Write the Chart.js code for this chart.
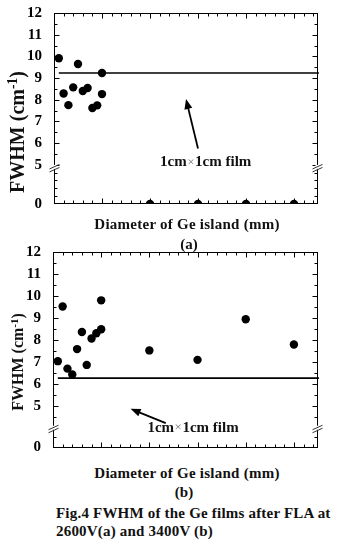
<!DOCTYPE html>
<html><head><meta charset="utf-8">
<script src="https://cdn.jsdelivr.net/npm/chart.js@4/dist/chart.umd.min.js"></script>
<style>
body{margin:0;background:#fff;width:357px;height:543px;position:relative;overflow:hidden;font-family:"Liberation Serif","Times New Roman",serif;font-weight:bold;color:#111}
.box{position:absolute;left:0;width:357px}
.t{position:absolute;white-space:nowrap;line-height:1}
.c{transform:translateX(-50%)}
.yt{position:absolute;white-space:nowrap;line-height:1;transform:translate(-50%,-50%) rotate(-90deg)}
sup{font-size:0.68em;vertical-align:baseline;position:relative;top:-0.5em}
</style></head>
<body>
<div class="box" style="top:0;height:218px"><canvas id="ca"></canvas></div>
<div class="box" style="top:240px;height:219px"><canvas id="cb"></canvas></div>
<div class="yt" style="left:17px;top:132px;font-size:20px">FWHM (cm<sup>-1</sup>)</div>
<div class="yt" style="left:18px;top:362px;font-size:16px">FWHM (cm<sup>-1</sup>)</div>
<div class="t c" style="left:187px;top:217px;font-size:15px;letter-spacing:0.25px">Diameter of Ge island (mm)</div>
<div class="t c" style="left:189px;top:237px;font-size:15px">(a)</div>
<div class="t c" style="left:187px;top:466px;font-size:15px;letter-spacing:0.25px">Diameter of Ge island (mm)</div>
<div class="t c" style="left:184px;top:485px;font-size:15px">(b)</div>
<div class="t" style="left:56px;top:506px;font-size:15px;letter-spacing:0.2px">Fig.4 FWHM of the Ge films after FLA at</div>
<div class="t" style="left:56px;top:524px;font-size:15px;letter-spacing:0.2px">2600V(a) and 3400V (b)</div>
<script>
// ---- data ----
const diameterA = [0.1,0.2,0.3,0.4,0.5,0.6,0.7,0.8,0.9,1.0,1.0,2,3,4,5];
const fwhmA     = [9.91,8.29,7.75,8.57,9.65,8.40,8.54,7.62,7.74,9.23,8.26,0,0,0,0];
const diameterB = [0.1,0.2,0.3,0.4,0.5,0.6,0.7,0.8,0.9,1.0,1.0,2,3,4,5];
const fwhmB     = [7.03,9.52,6.69,6.42,7.58,8.36,6.86,8.06,8.30,9.80,8.48,7.52,7.09,8.94,7.79];
const filmLevelA = 9.23;
const filmLevelB = 6.26;
const filmSpan = [0.1, 5.52];
const yTickLabels = [0,5,6,7,8,9,10,11,12];
const xRange = [0, 5.5];
const noteText = ["1cm", "\u00d7", "1cm film"];

const SERIF = '"Liberation Serif","Times New Roman",serif';
Chart.defaults.font.family = SERIF;

function makeDisp(zeroPos){ // broken axis: values below 5 are compressed
  const k = (5 - zeroPos) / 5;
  return v => v >= 5 ? v : 5 - (5 - v) * k;
}

const framePlugin = {
  id: 'frame',
  afterDatasetsDraw(chart, args, o) {
    const {ctx, chartArea: a, scales: {x, y}} = chart;
    ctx.save();
    ctx.strokeStyle = '#000';
    ctx.fillStyle = '#000';
    ctx.lineWidth = 1;
    const L = Math.round(a.left) + 0.5, R = Math.round(a.right) - 0.5;
    const T = Math.round(a.top) + 0.5, B = Math.round(a.bottom) - 0.5;
    ctx.strokeRect(L, T, R - L, B - T);
    ctx.beginPath();
    for (let i = 1; i < 28; i++) {
      const v = i * 0.2;
      if (v >= xRange[1]) break;
      const px = Math.round(x.getPixelForValue(v)) + 0.5;
      const len = Math.abs(v - Math.round(v)) < 1e-6 ? 5 : 3;
      ctx.moveTo(px, B); ctx.lineTo(px, B - len);
      ctx.moveTo(px, T); ctx.lineTo(px, T + len);
    }
    const disp = o.disp;
    const major = yTickLabels.filter(v => v >= 5).map(disp);
    const minor = [];
    for (let v = 5.5; v < 12; v += 1) minor.push(v);
    o.lowMinor.forEach(v => minor.push(v));
    major.forEach(v => {
      const py = Math.round(y.getPixelForValue(v)) + 0.5;
      ctx.moveTo(L, py); ctx.lineTo(L + 5, py);
      ctx.moveTo(R, py); ctx.lineTo(R - 5, py);
    });
    minor.forEach(v => {
      const py = Math.round(y.getPixelForValue(v)) + 0.5;
      ctx.moveTo(L, py); ctx.lineTo(L + 3, py);
      ctx.moveTo(R, py); ctx.lineTo(R - 3, py);
    });
    ctx.stroke();
    const by = y.getPixelForValue(o.breakAt);
    [L, R].forEach(ax => {
      ctx.fillStyle = '#fff';
      ctx.fillRect(ax - 2, by - 2, 4, 4);
      ctx.strokeStyle = '#333';
      ctx.beginPath();
      ctx.moveTo(ax - 5, by + 2); ctx.lineTo(ax + 5, by - 2.5);
      ctx.moveTo(ax - 5, by + 5); ctx.lineTo(ax + 5, by + 0.5);
      ctx.stroke();
    });
    const n = o.note;
    const x1 = x.getPixelForValue(n.tail[0]), y1 = y.getPixelForValue(n.tail[1]);
    const x2 = x.getPixelForValue(n.head[0]), y2 = y.getPixelForValue(n.head[1]);
    const ang = Math.atan2(y2 - y1, x2 - x1);
    const hl = 10, hw = 4;
    ctx.strokeStyle = '#000';
    ctx.lineWidth = 1.8;
    ctx.beginPath();
    ctx.moveTo(x1, y1);
    ctx.lineTo(x2 - Math.cos(ang) * hl * 0.8, y2 - Math.sin(ang) * hl * 0.8);
    ctx.stroke();
    ctx.fillStyle = '#000';
    ctx.beginPath();
    ctx.moveTo(x2, y2);
    ctx.lineTo(x2 - Math.cos(ang) * hl - Math.sin(ang) * hw, y2 - Math.sin(ang) * hl + Math.cos(ang) * hw);
    ctx.lineTo(x2 - Math.cos(ang) * hl + Math.sin(ang) * hw, y2 - Math.sin(ang) * hl - Math.cos(ang) * hw);
    ctx.closePath();
    ctx.fill();
    let tx = x.getPixelForValue(n.at[0]);
    const ty = y.getPixelForValue(n.at[1]);
    ctx.textBaseline = 'middle';
    ctx.textAlign = 'left';
    const fonts = ['bold 15px "Liberation Serif"', '13px "Liberation Serif"', 'bold 15px "Liberation Serif"'];
    const cols = ['#111', '#777', '#111'];
    noteText.forEach((s, i) => {
      ctx.font = fonts[i];
      ctx.fillStyle = cols[i];
      ctx.fillText(s, tx, ty);
      tx += ctx.measureText(s).width + 0.5;
    });
    ctx.restore();
  }
};

function build(id, xs, ys, level, zeroPos, pad, breakAt, lowMinor, note) {
  const disp = makeDisp(zeroPos);
  const pts = xs.map((v, i) => ({x: v, y: disp(ys[i])}));
  return new Chart(document.getElementById(id), {
    data: {
      datasets: [
        {type: 'line', data: filmSpan.map(v => ({x: v, y: disp(level)})), borderColor: '#000', borderWidth: 1.6, pointRadius: 0, clip: false},
        {type: 'scatter', data: pts, pointRadius: 4.2, pointBackgroundColor: '#000', pointBorderWidth: 0, borderWidth: 0}
      ]
    },
    options: {
      responsive: true, maintainAspectRatio: false, animation: false,
      layout: {padding: {top: pad.top, right: pad.right, bottom: 0, left: 0}, autoPadding: false},
      plugins: {legend: {display: false}, tooltip: {enabled: false},
        frame: {disp, breakAt, lowMinor, note}},
      scales: {
        x: {type: 'linear', min: xRange[0], max: xRange[1], display: true,
            grid: {display: false}, border: {display: false}, ticks: {display: false},
            afterFit: s => { s.height = pad.xh; }},
        y: {type: 'linear', min: zeroPos, max: 12,
            grid: {display: false}, border: {display: false},
            afterBuildTicks: s => { s.ticks = yTickLabels.map(v => ({value: disp(v)})); },
            ticks: {padding: 4, color: '#000', font: {family: SERIF, size: 15, weight: 'bold', lineHeight: 1},
                    callback: (v, i) => String(yTickLabels[i])},
            afterFit: s => { s.width = pad.yw; }}
      }
    },
    plugins: [framePlugin]
  });
}

build('ca', diameterA, fwhmA, filmLevelA, 3.19,
  {top: 13, right: 39, xh: 14, yw: 54}, 4.9, [4, 3, 2, 1].map(v => makeDisp(3.19)(v)),
  {at: [2.21, 5.1], tail: [3.0, 5.75], head: [2.75, 8.03]});
build('cb', diameterB, fwhmB, filmLevelB, 3.10,
  {top: 12, right: 39, xh: 10, yw: 53}, 4.0, [4.5, 3.6],
  {at: [1.96, 4.0], tail: [2.34, 4.21], head: [1.61, 4.86]});
</script>
</body></html>
